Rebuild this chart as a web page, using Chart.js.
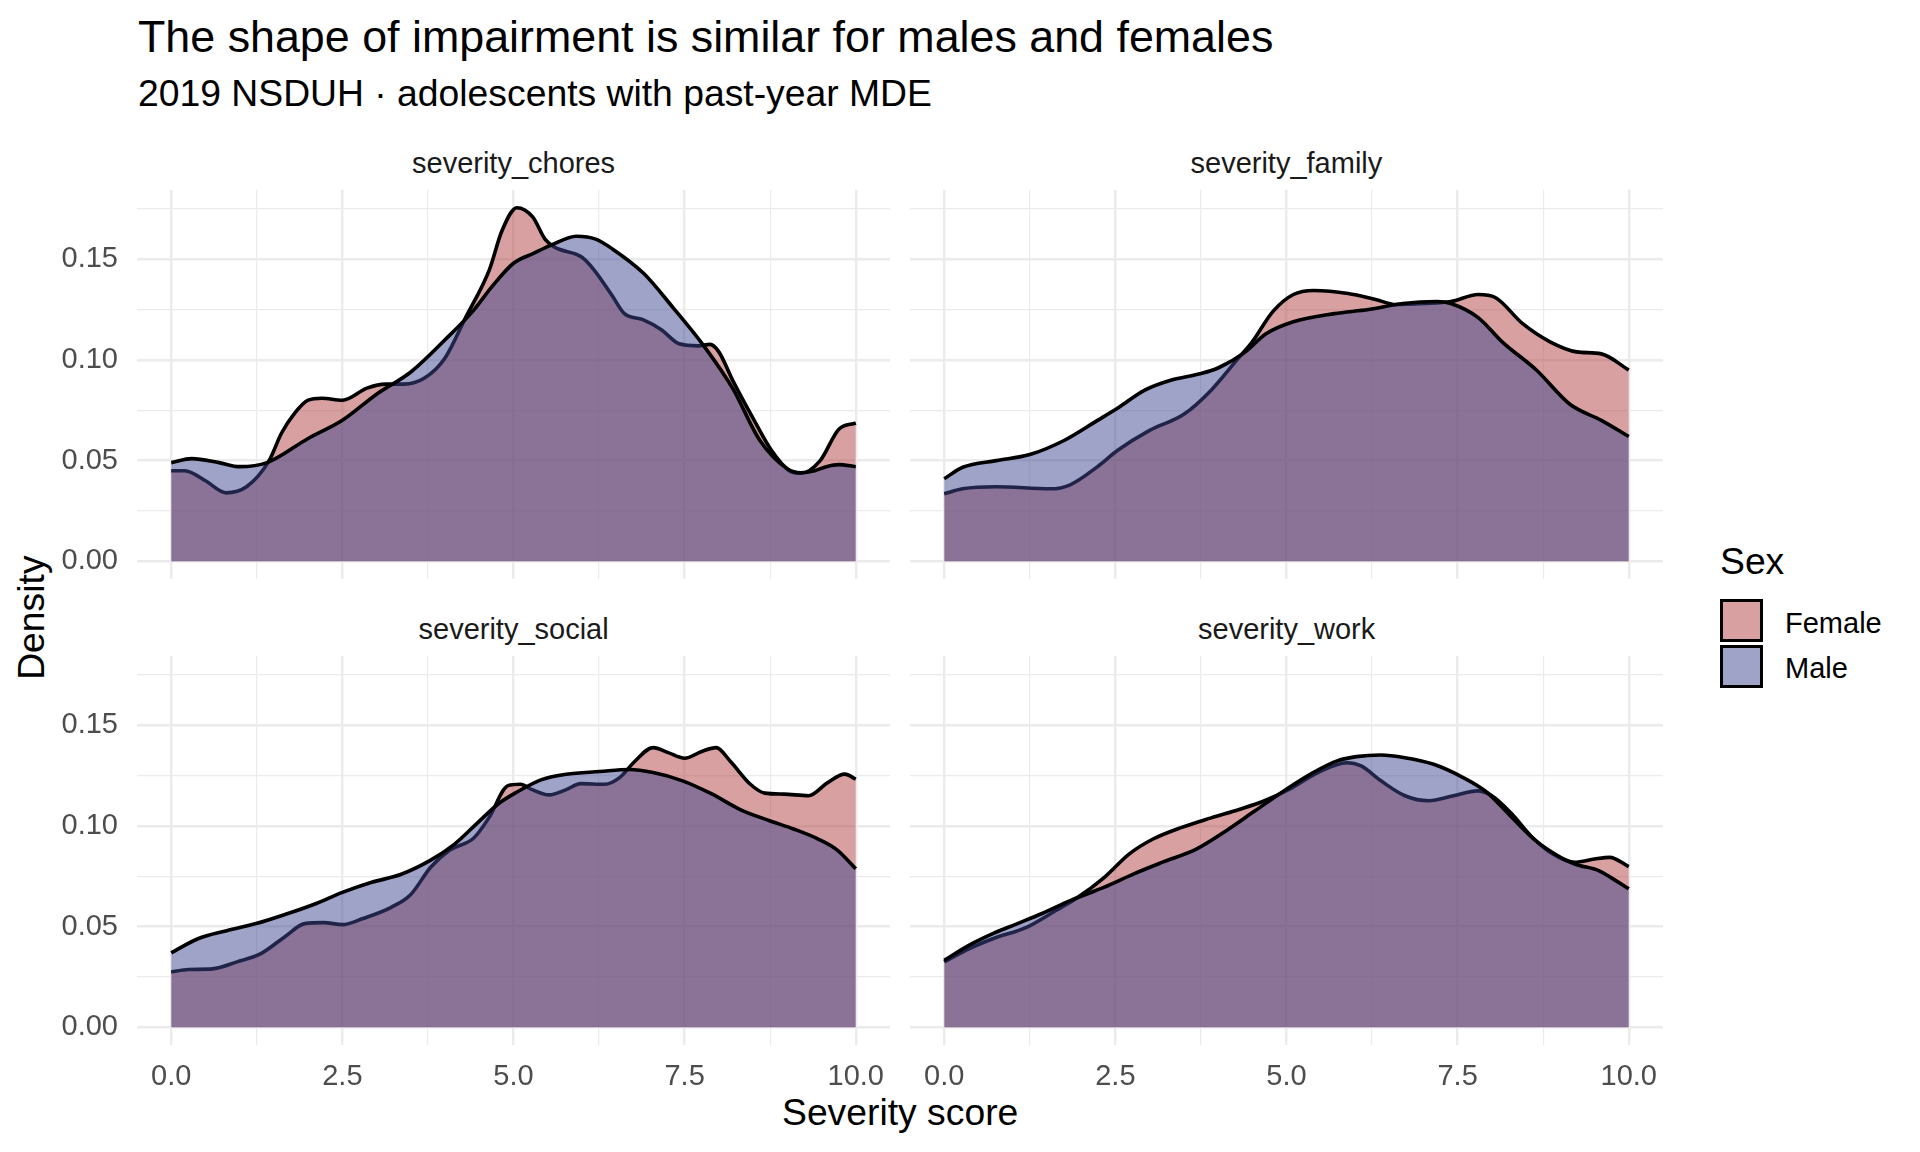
<!DOCTYPE html>
<html>
<head>
<meta charset="utf-8">
<script src="https://cdn.jsdelivr.net/npm/chart.js@4/dist/chart.umd.min.js"></script>
<style>
  html, body { margin:0; padding:0; background:#fff; }
  body { width:1920px; height:1152px; position:relative; overflow:hidden; font-family:"Liberation Sans", Arial, sans-serif; }
  .txt { position:absolute; white-space:nowrap; line-height:1; }
  canvas { position:absolute; }
  .key { position:absolute; width:37px; height:37px; border:3px solid #000; }
</style>
</head>
<body>
<div class="txt" style="left:138px;top:14px;font-size:44.8px;color:#000;">The shape of impairment is similar for males and females</div>
<div class="txt" style="left:138px;top:75px;font-size:37.3px;color:#000;">2019 NSDUH · adolescents with past-year MDE</div>

<div class="txt" id="s1" style="top:149px;font-size:29px;color:#1A1A1A;">severity_chores</div>
<div class="txt" id="s2" style="top:149px;font-size:29px;color:#1A1A1A;">severity_family</div>
<div class="txt" id="s3" style="top:615px;font-size:29px;color:#1A1A1A;">severity_social</div>
<div class="txt" id="s4" style="top:615px;font-size:29px;color:#1A1A1A;">severity_work</div>

<div class="txt" id="ylab" style="font-size:37.3px;color:#000;">Density</div>
<div class="txt" id="xlab" style="top:1094px;font-size:37.3px;color:#000;">Severity score</div>

<div class="txt" style="left:1720px;top:543px;font-size:37.3px;color:#000;">Sex</div>
<div class="key" style="left:1720px;top:599px;background:rgba(178,65,66,0.5);"></div>
<div class="key" style="left:1720px;top:645px;background:rgba(63,71,145,0.5);"></div>
<div class="txt" style="left:1785px;top:609px;font-size:29px;color:#000;">Female</div>
<div class="txt" style="left:1785px;top:654px;font-size:29px;color:#000;">Male</div>

<canvas id="c1" width="890" height="389" style="left:0px;top:190px;"></canvas>
<canvas id="c2" width="753" height="389" style="left:910px;top:190px;"></canvas>
<canvas id="c3" width="890" height="449" style="left:0px;top:656px;"></canvas>
<canvas id="c4" width="753" height="449" style="left:910px;top:656px;"></canvas>

<script>
// ---------- data ----------
const panelNames = ["severity_chores", "severity_family", "severity_social", "severity_work"];
const sexLevels = ["Female", "Male"];
const xTickValues = [0, 1.25, 2.5, 3.75, 5, 6.25, 7.5, 8.75, 10];
const yTickValues = [0, 0.025, 0.05, 0.075, 0.1, 0.125, 0.15, 0.175];

const choresFemaleX = [0, 0.2, 0.5, 0.8, 1.1, 1.43, 1.61, 1.79, 2.0, 2.2, 2.5, 2.86, 3.13, 3.4, 3.7, 4.0, 4.3, 4.65, 4.83, 5.05, 5.28, 5.46, 5.6, 6.0, 6.17, 6.44, 6.62, 6.89, 7.16, 7.42, 7.7, 7.87, 8.0, 8.2, 8.5, 8.77, 9.03, 9.2, 9.48, 9.75, 10];
const choresFemaleY = [0.045, 0.045, 0.040, 0.034, 0.037, 0.050, 0.0636, 0.073, 0.080, 0.081, 0.080, 0.086, 0.088, 0.088, 0.091, 0.101, 0.121, 0.145, 0.164, 0.1756, 0.171, 0.160, 0.156, 0.151, 0.145, 0.132, 0.123, 0.120, 0.115, 0.108, 0.107, 0.1077, 0.104, 0.090, 0.071, 0.055, 0.045, 0.0437, 0.050, 0.0655, 0.0687];
const choresMaleX = [0, 0.3, 0.7, 1.0, 1.4, 2.0, 2.5, 3.0, 3.5, 4.0, 4.4, 4.7, 5.0, 5.3, 5.55, 5.92, 6.2, 6.45, 6.9, 7.33, 7.78, 8.2, 8.6, 9.0, 9.2, 9.4, 9.57, 9.75, 10];
const choresMaleY = [0.049, 0.051, 0.049, 0.047, 0.049, 0.061, 0.070, 0.083, 0.094, 0.110, 0.124, 0.137, 0.148, 0.153, 0.157, 0.1614, 0.160, 0.155, 0.143, 0.126, 0.107, 0.086, 0.060, 0.046, 0.044, 0.045, 0.047, 0.048, 0.047];

const familyFemaleX = [0, 0.27, 0.76, 1.55, 1.84, 2.24, 2.53, 3.0, 3.5, 3.9, 4.3, 4.5, 4.8, 5.1, 5.4, 5.9, 6.3, 6.6, 7.0, 7.4, 7.8, 8.05, 8.45, 8.85, 9.24, 9.6, 10];
const familyFemaleY = [0.0335, 0.036, 0.037, 0.036, 0.038, 0.047, 0.055, 0.065, 0.073, 0.085, 0.101, 0.109, 0.124, 0.1325, 0.1345, 0.133, 0.130, 0.1275, 0.128, 0.129, 0.1325, 0.131, 0.118, 0.109, 0.104, 0.103, 0.095];
const familyMaleX = [0, 0.27, 0.76, 1.25, 1.75, 2.24, 2.53, 2.93, 3.32, 3.72, 4.0, 4.4, 4.7, 5.1, 5.7, 6.2, 6.7, 7.2, 7.4, 7.8, 8.15, 8.65, 9.14, 9.6, 10];
const familyMaleY = [0.041, 0.0467, 0.050, 0.053, 0.060, 0.070, 0.076, 0.085, 0.090, 0.093, 0.096, 0.104, 0.113, 0.119, 0.123, 0.125, 0.128, 0.129, 0.128, 0.121, 0.109, 0.095, 0.078, 0.070, 0.062];

const socialFemaleX = [0, 0.25, 0.6, 0.96, 1.31, 1.66, 1.95, 2.23, 2.5, 2.8, 3.22, 3.5, 3.79, 4.07, 4.42, 4.64, 4.92, 5.1, 5.27, 5.52, 5.77, 5.98, 6.33, 6.55, 6.77, 7.04, 7.26, 7.5, 7.75, 7.96, 8.17, 8.46, 8.67, 8.95, 9.31, 9.59, 9.84, 10];
const socialFemaleY = [0.0275, 0.0287, 0.029, 0.0325, 0.0366, 0.045, 0.0515, 0.052, 0.051, 0.054, 0.0597, 0.066, 0.0795, 0.088, 0.094, 0.104, 0.120, 0.1207, 0.118, 0.1154, 0.118, 0.121, 0.1207, 0.124, 0.132, 0.1389, 0.1364, 0.1336, 0.137, 0.1389, 0.132, 0.1207, 0.1163, 0.1158, 0.115, 0.1215, 0.1257, 0.1232];
const socialMaleX = [0, 0.39, 0.81, 1.24, 1.66, 2.08, 2.5, 2.93, 3.36, 3.79, 4.14, 4.49, 4.78, 5.06, 5.41, 5.77, 6.26, 6.69, 7.04, 7.47, 7.89, 8.32, 8.74, 9.09, 9.45, 9.73, 10];
const socialMaleY = [0.037, 0.044, 0.048, 0.0515, 0.056, 0.061, 0.067, 0.072, 0.076, 0.083, 0.091, 0.102, 0.111, 0.117, 0.123, 0.1257, 0.127, 0.128, 0.1265, 0.1224, 0.116, 0.108, 0.1026, 0.0985, 0.0935, 0.088, 0.0787];

const workFemaleX = [0, 0.36, 0.71, 1.21, 1.63, 1.92, 2.34, 2.7, 3.05, 3.47, 3.9, 4.32, 4.68, 5.03, 5.46, 5.88, 6.09, 6.38, 6.73, 7.08, 7.44, 7.79, 8.0, 8.29, 8.57, 8.85, 9.21, 9.5, 9.72, 10];
const workFemaleY = [0.0325, 0.039, 0.044, 0.0498, 0.058, 0.0638, 0.0745, 0.086, 0.0935, 0.0993, 0.104, 0.1083, 0.1125, 0.118, 0.1265, 0.1314, 0.1298, 0.1224, 0.115, 0.1125, 0.115, 0.1174, 0.115, 0.106, 0.095, 0.087, 0.082, 0.0836, 0.0844, 0.0798];
const workMaleX = [0, 0.36, 0.71, 1.07, 1.42, 1.85, 2.34, 2.77, 3.19, 3.69, 4.12, 4.54, 4.96, 5.39, 5.74, 6.02, 6.38, 6.73, 7.15, 7.58, 7.93, 8.29, 8.64, 8.92, 9.21, 9.56, 9.77, 10];
const workMaleY = [0.0333, 0.0407, 0.0465, 0.0515, 0.0564, 0.063, 0.0696, 0.0762, 0.082, 0.0886, 0.0976, 0.1075, 0.1174, 0.1265, 0.1323, 0.1344, 0.1352, 0.1339, 0.1306, 0.124, 0.1166, 0.1043, 0.0927, 0.0861, 0.0811, 0.0778, 0.0737, 0.0688];

// ---------- styling ----------
const FEMALE_FILL = 'rgba(178,65,66,0.5)';
const MALE_FILL = 'rgba(63,71,145,0.5)';
const GRID = '#EBEBEB';
const FONT = '"Liberation Sans", Arial, sans-serif';
const X_MIN = -0.5, X_MAX = 10.5;
const Y_MIN = -0.00878, Y_MAX = 0.18438;

function pts(xs, ys) { return xs.map((x, i) => ({x: x, y: ys[i]})); }
function isMajor(v, step) { const r = v / step; return Math.abs(r - Math.round(r)) < 1e-6; }

function makePanel(canvasId, fx, fy, mx, my, showY, showX) {
  const ctx = document.getElementById(canvasId).getContext('2d');
  const lineDs = (label, data, fill, order) => ({
    label: label, data: data, backgroundColor: fill, borderColor: '#000000',
    borderWidth: 3.6, fill: 'origin', pointRadius: 0, pointHoverRadius: 0,
    cubicInterpolationMode: 'monotone', tension: 0.4, order: order,
    borderJoinStyle: 'round'
  });
  return new Chart(ctx, {
    type: 'line',
    data: {
      datasets: [
        lineDs(sexLevels[0], pts(fx, fy), FEMALE_FILL, 1),
        lineDs(sexLevels[1], pts(mx, my), MALE_FILL, 0)
      ]
    },
    options: {
      responsive: false, animation: false, devicePixelRatio: 1,
      layout: { padding: 0 },
      plugins: { legend: { display: false }, tooltip: { enabled: false }, title: { display: false } },
      events: [],
      scales: {
        x: {
          type: 'linear', min: X_MIN, max: X_MAX,
          afterBuildTicks: (s) => { s.ticks = xTickValues.map(v => ({value: v})); },
          afterFit: (s) => { s.height = showX ? 60 : 0; s.paddingLeft = 0; s.paddingRight = 0; s.paddingTop = 0; s.paddingBottom = 0; },
          border: { display: false },
          grid: {
            color: GRID, drawTicks: false,
            lineWidth: (c) => (c.tick && isMajor(c.tick.value, 2.5)) ? 2.4 : 1.2
          },
          ticks: {
            display: showX, autoSkip: false, maxRotation: 0, padding: 15,
            color: '#4D4D4D', font: { family: FONT, size: 29 },
            callback: (v) => isMajor(v, 2.5) ? v.toFixed(1) : ''
          }
        },
        y: {
          type: 'linear', min: Y_MIN, max: Y_MAX,
          afterBuildTicks: (s) => { s.ticks = yTickValues.map(v => ({value: v})); },
          afterFit: (s) => { s.width = showY ? 137 : 0; s.paddingLeft = 0; s.paddingRight = 0; s.paddingTop = 0; s.paddingBottom = 0; },
          border: { display: false },
          grid: {
            color: GRID, drawTicks: false,
            lineWidth: (c) => (c.tick && isMajor(c.tick.value, 0.05)) ? 2.4 : 1.2
          },
          ticks: {
            display: showY, autoSkip: false, padding: 19,
            color: '#4D4D4D', font: { family: FONT, size: 29 },
            callback: (v) => isMajor(v, 0.05) ? v.toFixed(2) : ''
          }
        }
      }
    }
  });
}

makePanel('c1', choresFemaleX, choresFemaleY, choresMaleX, choresMaleY, true, false);
makePanel('c2', familyFemaleX, familyFemaleY, familyMaleX, familyMaleY, false, false);
makePanel('c3', socialFemaleX, socialFemaleY, socialMaleX, socialMaleY, true, true);
makePanel('c4', workFemaleX, workFemaleY, workMaleX, workMaleY, false, true);

// centre strip labels and axis titles over panels
function centerAt(id, cx) { const el = document.getElementById(id); el.style.left = (cx - el.offsetWidth / 2) + 'px'; }
centerAt('s1', 513.5); centerAt('s2', 1286.5); centerAt('s3', 513.5); centerAt('s4', 1286.5);
centerAt('xlab', 900);
const yl = document.getElementById('ylab');
yl.style.left = (31 - yl.offsetWidth / 2) + 'px';
yl.style.top = (617 - yl.offsetHeight / 2) + 'px';
yl.style.transform = 'rotate(-90deg)';
</script>
</body>
</html>
